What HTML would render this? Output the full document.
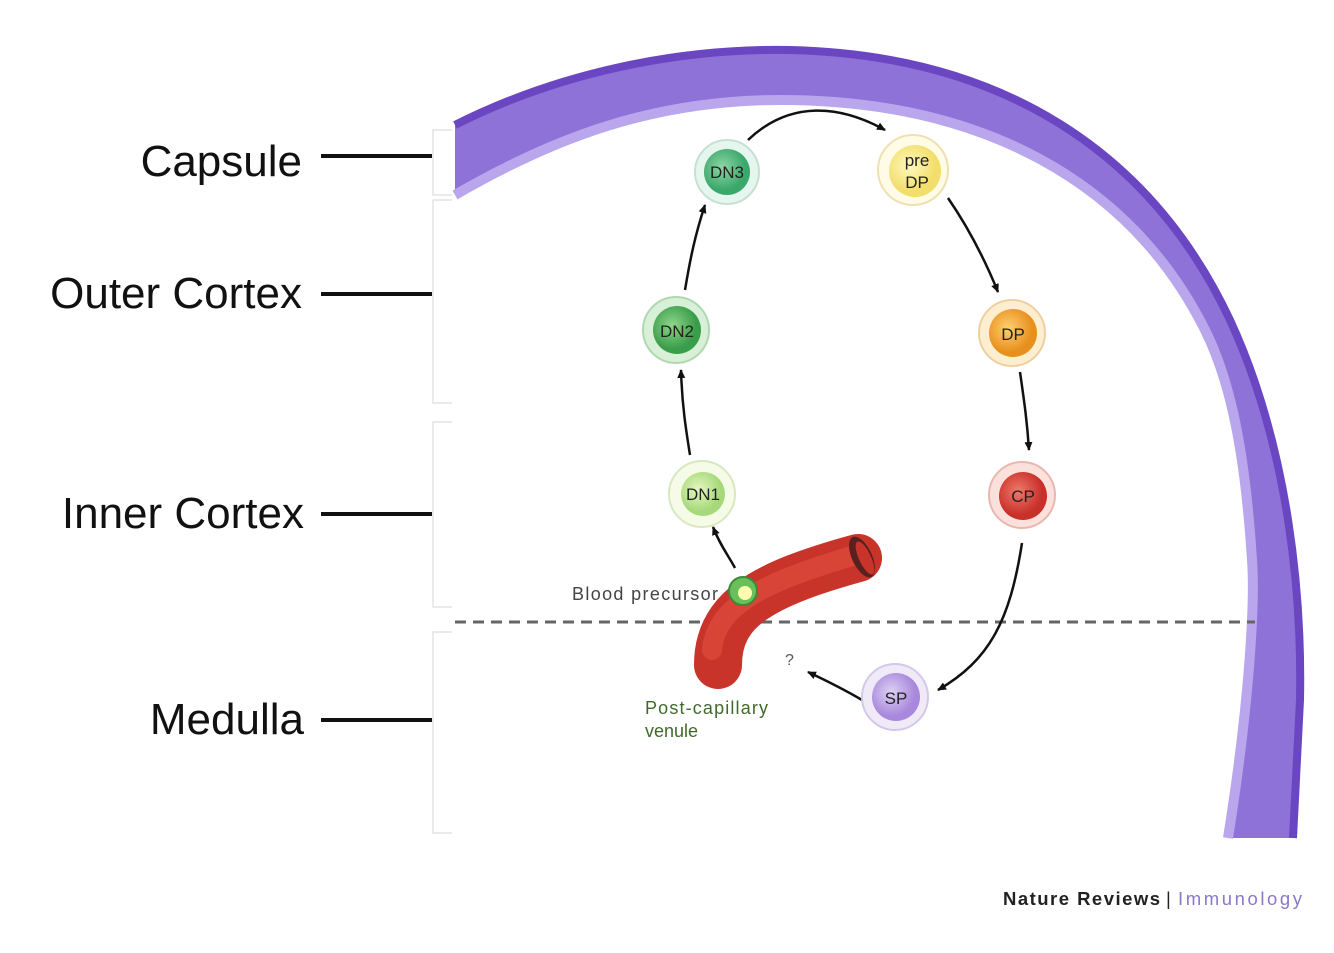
<!DOCTYPE html>
<html><head><style>
html,body{margin:0;padding:0;background:#fff}
svg{display:block}
text{font-family:"Liberation Sans",sans-serif}
</style></head><body>
<svg width="1334" height="953" viewBox="0 0 1334 953" xmlns="http://www.w3.org/2000/svg">
<defs>
<radialGradient id="g3" cx="0.4" cy="0.4"><stop offset="0" stop-color="#8fd6a6"/><stop offset="1" stop-color="#3aa86a"/></radialGradient>
<radialGradient id="g2" cx="0.4" cy="0.4"><stop offset="0" stop-color="#8fd68a"/><stop offset="1" stop-color="#3a9d4a"/></radialGradient>
<radialGradient id="g1" cx="0.4" cy="0.4"><stop offset="0" stop-color="#e6f7c0"/><stop offset="1" stop-color="#a6d97a"/></radialGradient>
<radialGradient id="gp" cx="0.4" cy="0.4"><stop offset="0" stop-color="#fff8c0"/><stop offset="1" stop-color="#f2de6a"/></radialGradient>
<radialGradient id="gd" cx="0.4" cy="0.4"><stop offset="0" stop-color="#ffd070"/><stop offset="1" stop-color="#e8901e"/></radialGradient>
<radialGradient id="gc" cx="0.4" cy="0.4"><stop offset="0" stop-color="#f07a6a"/><stop offset="1" stop-color="#c8302a"/></radialGradient>
<radialGradient id="gs" cx="0.4" cy="0.4"><stop offset="0" stop-color="#ddd0f4"/><stop offset="1" stop-color="#a888dc"/></radialGradient>
<marker id="ah" markerWidth="10" markerHeight="10" refX="8" refY="5" orient="auto" markerUnits="userSpaceOnUse"><path d="M0,1 L9,5 L0,9 Z" fill="#111"/></marker>
</defs>

<path d="M455,125 C 560,72 680,48 790,50 C 1000,55 1150,150 1230,320 C 1290,450 1302,600 1300,700 L1293,838 L1228,838 C 1250,700 1255,600 1252,560 C 1245,450 1230,380 1205,330 C 1130,180 980,100 780,100 C 650,100 550,140 455,195 Z" fill="#8e72d8"/>
<path d="M455,125 C 560,72 680,48 790,50 C 1000,55 1150,150 1230,320 C 1290,450 1302,600 1300,700 L1293,838" fill="none" stroke="#6a46c2" stroke-width="8"/>
<path d="M1228,838 C 1250,700 1255,600 1252,560 C 1245,450 1230,380 1205,330 C 1130,180 980,100 780,100 C 650,100 550,140 455,195" fill="none" stroke="#b9a6ec" stroke-width="10"/>

<g fill="none" stroke="#e4e4e4" stroke-width="1.5">
<path d="M452,130 H433 V195 H452"/>
<path d="M452,200 H433 V403 H452"/>
<path d="M452,422 H433 V607 H452"/>
<path d="M452,632 H433 V833 H452"/>
</g>

<g font-size="44" fill="#111" text-anchor="end">
<text x="302" y="176">Capsule</text>
<text x="302" y="308">Outer Cortex</text>
<text x="304" y="528">Inner Cortex</text>
<text x="304" y="734">Medulla</text>
</g>
<g stroke="#111" stroke-width="4">
<line x1="321" y1="156" x2="432" y2="156"/>
<line x1="321" y1="294" x2="432" y2="294"/>
<line x1="321" y1="514" x2="432" y2="514"/>
<line x1="321" y1="720" x2="432" y2="720"/>
</g>

<line x1="455" y1="622" x2="1255" y2="622" stroke="#666" stroke-width="3" stroke-dasharray="11,7"/>

<g fill="none" stroke="#111" stroke-width="2.5" marker-end="url(#ah)">
<path d="M748,140 C 790,100 840,105 885,130"/>
<path d="M948,198 C 970,230 985,260 998,292"/>
<path d="M1020,372 C 1024,400 1027,420 1029,450"/>
<path d="M1022,543 C 1010,620 990,660 938,690"/>
<path d="M862,700 C 845,690 825,680 808,672"/>
<path d="M685,290 C 690,260 695,235 705,205"/>
<path d="M690,455 C 686,430 682,405 681,370"/>
<path d="M735,568 C 728,555 720,545 713,527"/>
</g>
<text x="785" y="665" font-size="16" fill="#555">?</text>

<path d="M718,665 C 718,610 760,585 858,558" fill="none" stroke="#c8342a" stroke-width="48" stroke-linecap="round"/>
<path d="M712,650 C 716,605 765,582 852,556" fill="none" stroke="#e2503e" stroke-width="20" stroke-linecap="round" opacity="0.6"/>
<ellipse cx="862" cy="557" rx="10" ry="22" transform="rotate(-25 862 557)" fill="#5a2020"/>
<ellipse cx="865" cy="558" rx="6" ry="18" transform="rotate(-25 865 558)" fill="#c8342a"/>

<circle cx="743" cy="591" r="14" fill="#6abf5a" stroke="#3a8a3a" stroke-width="2"/>
<circle cx="745" cy="593" r="7" fill="#fffbb0"/>
<text x="572" y="600" font-size="18" fill="#444" textLength="146">Blood precursor</text>
<text x="645" y="714" font-size="18" fill="#3f6a2a" textLength="123">Post-capillary</text>
<text x="645" y="737" font-size="18" fill="#3f6a2a">venule</text>

<g font-size="17" fill="#222" text-anchor="middle">
<circle cx="727" cy="172" r="32" fill="#e4f6ee" stroke="#c8e0d4" stroke-width="2"/><circle cx="727" cy="172" r="23" fill="url(#g3)"/><text x="727" y="178">DN3</text>
<circle cx="913" cy="170" r="35" fill="#fffbe6" stroke="#eee0b0" stroke-width="2"/><circle cx="915" cy="171" r="26" fill="url(#gp)"/><text x="917" y="166">pre</text><text x="917" y="188">DP</text>
<circle cx="676" cy="330" r="33" fill="#d8f0d8" stroke="#b0d8b0" stroke-width="2"/><circle cx="677" cy="330" r="24" fill="url(#g2)"/><text x="677" y="337">DN2</text>
<circle cx="1012" cy="333" r="33" fill="#fdeed0" stroke="#eed0a0" stroke-width="2"/><circle cx="1013" cy="333" r="24" fill="url(#gd)"/><text x="1013" y="340">DP</text>
<circle cx="702" cy="494" r="33" fill="#f6fbe8" stroke="#d8e8c0" stroke-width="2"/><circle cx="703" cy="494" r="22" fill="url(#g1)"/><text x="703" y="500">DN1</text>
<circle cx="1022" cy="495" r="33" fill="#fbe0dc" stroke="#e8b8b0" stroke-width="2"/><circle cx="1023" cy="496" r="24" fill="url(#gc)"/><text x="1023" y="502">CP</text>
<circle cx="895" cy="697" r="33" fill="#f0eaf8" stroke="#d4c8e8" stroke-width="2"/><circle cx="896" cy="697" r="24" fill="url(#gs)"/><text x="896" y="704">SP</text>
</g>

<text x="1003" y="905" font-size="18.5" font-weight="bold" fill="#222" textLength="157">Nature Reviews</text>
<text x="1166" y="905" font-size="18.5" fill="#222">|</text>
<text x="1178" y="905" font-size="18.5" fill="#8a78c8" textLength="124">Immunology</text>
</svg>
</body></html>
